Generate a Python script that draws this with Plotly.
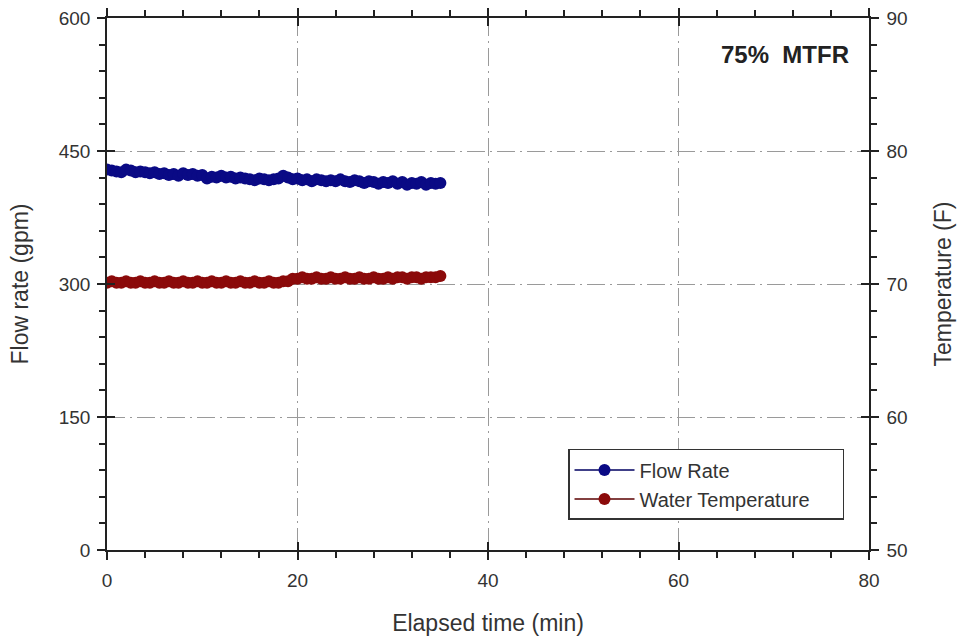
import plotly.graph_objects as go

time_min = [i * 0.5 for i in range(71)]
flow_rate = [429, 428, 427, 426, 429, 428, 426, 427, 426, 425, 426, 424, 425, 423, 424, 422,
             425, 423, 424, 422, 423, 419, 421, 420, 422, 420, 421, 419, 420, 419, 418, 417,
             419, 418, 417, 418, 419, 422, 420, 418, 419, 417, 418, 416, 418, 417, 416, 417,
             416, 418, 416, 415, 417, 416, 414, 416, 415, 413, 415, 414, 416, 413, 415, 412,
             414, 413, 415, 412, 414, 413, 414]
water_temp = [70.1, 70.2, 70.1, 70.1, 70.2, 70.1, 70.1, 70.2, 70.1, 70.1, 70.2, 70.1, 70.1,
              70.2, 70.1, 70.1, 70.2, 70.1, 70.1, 70.2, 70.1, 70.1, 70.2, 70.1, 70.1, 70.2,
              70.1, 70.1, 70.2, 70.1, 70.1, 70.2, 70.1, 70.1, 70.2, 70.1, 70.1, 70.2, 70.2,
              70.4, 70.4, 70.5, 70.4, 70.4, 70.5, 70.4, 70.4, 70.5, 70.4, 70.4, 70.5, 70.4,
              70.4, 70.5, 70.4, 70.4, 70.5, 70.4, 70.4, 70.5, 70.4, 70.5, 70.5, 70.4, 70.5,
              70.5, 70.4, 70.5, 70.5, 70.5, 70.6]
series_names = ["Flow Rate", "Water Temperature"]

FONT = "Liberation Sans, Arial, sans-serif"
TXT = "#333333"
AX = "#222222"
PAD = "\u00a0" * 5  # widens the legend box like the reference

fig = go.Figure()
fig.add_trace(go.Scatter(x=time_min, y=flow_rate, name=series_names[0], mode="lines+markers",
                         line=dict(color="#000060", width=1.5),
                         marker=dict(color="#0a0a85", size=12)))
fig.add_trace(go.Scatter(x=time_min, y=water_temp, name=series_names[1] + PAD,
                         mode="lines+markers",
                         yaxis="y2", line=dict(color="#5a0000", width=1.5),
                         marker=dict(color="#8b0a0a", size=12)))
# helper (empty) trace so the inner-tick overlay axes are drawn
fig.add_trace(go.Scatter(x=[], y=[], xaxis="x2", yaxis="y3", showlegend=False, hoverinfo="skip"))

grid = dict(showgrid=True, gridcolor="#9a9a9a", griddash="18px,5px,2px,5px", gridwidth=1)
minor_common = dict(ticks="outside", ticklen=6, tickcolor=AX, tickwidth=1.5)
fig.update_layout(
    width=959, height=643,
    margin=dict(l=107, r=90, t=18, b=93),
    paper_bgcolor="white", plot_bgcolor="white",
    font=dict(family=FONT, size=19, color=TXT),
    showlegend=True,
    legend=dict(x=0.605, y=0.19, xanchor="left", yanchor="top",
                bordercolor="#333333", borderwidth=1.5, bgcolor="white",
                font=dict(size=20, color=TXT), itemwidth=60,
                tracegroupgap=0),
    xaxis=dict(range=[0, 80], dtick=20, tick0=0, showline=True, linecolor=AX, linewidth=1.5,
               ticks="outside", ticklen=8, tickwidth=1.5, tickcolor=AX, mirror="ticks",
               ticklabelstandoff=4, automargin=False,
               minor=dict(dtick=4, **minor_common),
               zeroline=False,
               title=dict(text="Elapsed time (min)", font=dict(size=23, color=TXT), standoff=25),
               **grid),
    yaxis=dict(range=[0, 600], dtick=150, tick0=0, showline=True, linecolor=AX, linewidth=1.5,
               ticks="outside", ticklen=8, tickwidth=1.5, tickcolor=AX,
               ticklabelstandoff=3, automargin=False,
               minor=dict(dtick=30, **minor_common),
               zeroline=False,
               title=dict(text="Flow rate (gpm)", font=dict(size=23, color=TXT), standoff=24),
               **grid),
    yaxis2=dict(range=[50, 90], dtick=10, tick0=50, overlaying="y", side="right",
                showline=True, linecolor=AX, linewidth=1.5,
                ticks="outside", ticklen=8, tickwidth=1.5, tickcolor=AX,
                ticklabelstandoff=4, automargin=False,
                minor=dict(dtick=2, **minor_common),
                showgrid=False, zeroline=False,
                title=dict(text="Temperature (F)", font=dict(size=23, color=TXT), standoff=28)),
    xaxis2=dict(range=[0, 80], dtick=20, tick0=0, overlaying="x", anchor="y3", side="bottom",
                ticks="inside", ticklen=8, tickwidth=1.5, tickcolor=AX, mirror="ticks",
                automargin=False,
                showticklabels=False, showgrid=False, zeroline=False, showline=False),
    yaxis3=dict(range=[0, 600], dtick=150, tick0=0, overlaying="y", anchor="x2", side="left",
                ticks="inside", ticklen=8, tickwidth=1.5, tickcolor=AX, mirror="ticks",
                automargin=False,
                showticklabels=False, showgrid=False, zeroline=False, showline=False),
    annotations=[dict(text="<b>75%  MTFR</b>", x=0.977, y=0.932, xref="paper", yref="paper",
                      xanchor="right", yanchor="middle", showarrow=False,
                      font=dict(size=24, color="#222"))],
)

fig.write_html("out.html")
